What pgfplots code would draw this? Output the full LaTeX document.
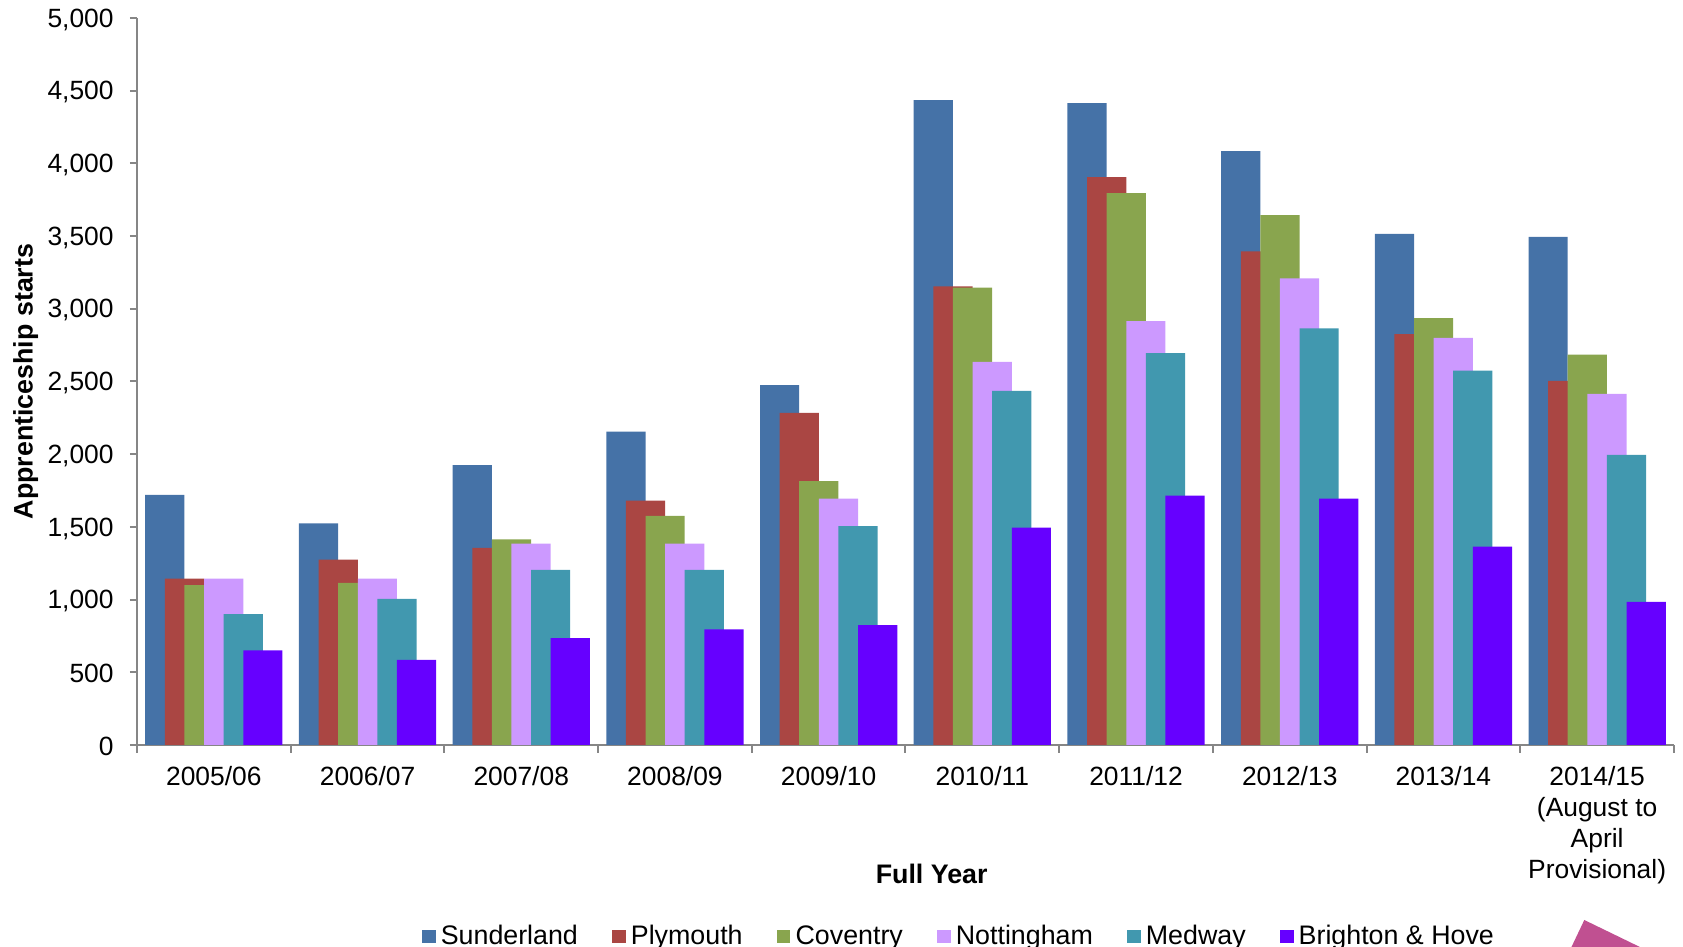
\documentclass[border=0pt]{standalone}
\usepackage{fontspec}
\setmainfont{Liberation Sans}
\usepackage{pgfplots}
\usepackage{pgfplotstable}
\pgfplotsset{compat=1.18}

\definecolor{sunderland}{RGB}{69,114,167}
\definecolor{plymouth}{RGB}{170,70,67}
\definecolor{coventry}{RGB}{137,165,78}
\definecolor{nottingham}{RGB}{204,153,255}
\definecolor{medway}{RGB}{65,152,175}
\definecolor{brighton}{RGB}{102,0,255}
\definecolor{axisgray}{RGB}{134,134,134}
\definecolor{accent}{RGB}{192,80,145}

\newcommand\tickfont{\fontsize{13.2}{15.5}\selectfont}
\newcommand\chartfont{\fontsize{13.4}{15.5}\selectfont}

% Apprenticeship starts by year (0 = 2005/06 ... 9 = 2014/15)
\pgfplotstableread{
x sund plym cov  nott med  bri
0 1720 1145 1100 1145 900  650
1 1525 1275 1115 1145 1005 585
2 1925 1355 1415 1385 1205 735
3 2155 1680 1575 1385 1205 795
4 2475 2285 1815 1695 1505 825
5 4435 3155 3145 2635 2435 1495
6 4415 3905 3795 2915 2695 1715
7 4085 3395 3645 3210 2865 1695
8 3515 2825 2935 2800 2575 1365
9 3495 2505 2685 2415 1995 985
}\starts

\begin{document}
\begin{tikzpicture}[x=0.5pt,y=0.5pt]
\path[use as bounding box] (0,0) rectangle (1683,947);
\clip (0,0) rectangle (1683,947);
\begin{axis}[
  at={(68.5pt,101pt)}, anchor=south west,
  scale only axis, width=768.5pt, height=363.5pt,
  xmin=-0.5, xmax=9.5, ymin=0, ymax=5000,
  axis x line*=bottom, axis y line*=left,
  axis line style={draw=axisgray, line width=1pt, -},
  ybar, bar width=0.255,
  xtick={0,...,9},
  xticklabels={2005/06,2006/07,2007/08,2008/09,2009/10,2010/11,2011/12,2012/13,2013/14,{2014/15\\(August to\\April\\Provisional)}},
  minor xtick={-0.5,0.5,...,9.5},
  major x tick style={draw=none},
  minor x tick style={draw=axisgray, line width=1pt},
  ytick={0,500,...,5000},
  y tick style={draw=axisgray, line width=1pt},
  tick align=outside,
  major tick length=3.5pt, minor tick length=4pt,
  /pgf/number format/1000 sep={,},
  /pgf/number format/assume math mode=true,
  ticklabel style={font=\tickfont},
  xticklabel style={align=center, anchor=north, inner sep=0pt, yshift=-7pt},
  yticklabel style={anchor=east, inner sep=0pt, xshift=-8pt, yshift=-0.8pt},
  xlabel={Full Year},
  ylabel={Apprenticeship starts},
  label style={font=\chartfont\bfseries},
  xlabel style={at={(axis description cs:0.517,-0.1777)}, anchor=center},
  ylabel style={at={(axis description cs:-0.0725,0.5)}, anchor=center},
  legend columns=6,
  legend image code/.code={\fill[#1] (0pt,-3.35pt) rectangle (6.7pt,3.35pt);},
  legend style={draw=none, fill=none, inner sep=0pt, font=\chartfont,
    at={(axis description cs:0.5342,-0.2634)}, anchor=center,
    nodes={inner sep=0pt},
    /tikz/every odd column/.append style={column sep=2.6pt},
    /tikz/every even column/.append style={column sep=17.2pt}},
  legend cell align=left,
]
\addplot[fill=sunderland, draw=none, bar shift=-0.319] table[x=x,y=sund]{\starts};
\addplot[fill=plymouth,   draw=none, bar shift=-0.191] table[x=x,y=plym]{\starts};
\addplot[fill=coventry,   draw=none, bar shift=-0.064] table[x=x,y=cov]{\starts};
\addplot[fill=nottingham, draw=none, bar shift=0.064]  table[x=x,y=nott]{\starts};
\addplot[fill=medway,     draw=none, bar shift=0.191]  table[x=x,y=med]{\starts};
\addplot[fill=brighton,   draw=none, bar shift=0.319]  table[x=x,y=bri]{\starts};
\legend{Sunderland,Plymouth,Coventry,Nottingham,Medway,Brighton \& Hove}
\end{axis}
% decorative corner wedge
\fill[accent] (1584.3,27) -- (1694.3,-26.4) -- (1558.9,-26.4) -- cycle;
\end{tikzpicture}
\end{document}
